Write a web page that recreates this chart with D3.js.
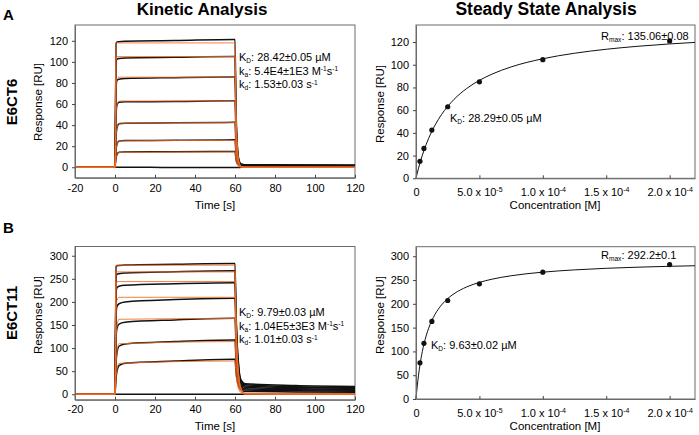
<!DOCTYPE html>
<html>
<head>
<meta charset="utf-8">
<script src="https://cdn.jsdelivr.net/npm/d3@7"></script>
<style>
  html, body { margin: 0; padding: 0; background: #fff; }
  svg { display: block; font-family: "Liberation Sans", Arial, sans-serif; }
</style>
</head>
<body>
<svg id="chart" width="699" height="435"></svg>
<script>
// ---------------- DATA ----------------
const panelLetters = ["A", "B"];
const constructNames = ["E6CT6", "E6CT11"];
const panelTitles = ["Kinetic Analysis", "Steady State Analysis"];

const kinTicks = [-20, 0, 20, 40, 60, 80, 100, 120];
const kinYTicksA = [0, 20, 40, 60, 80, 100, 120];
const kinYTicksB = [0, 50, 100, 150, 200, 250, 300];
const ssXTicks = [0, 5e-5, 1e-4, 1.5e-4, 2e-4];
const ssXTickMant = ["0", "5.0", "1.0", "1.5", "2.0"];
const ssXTickExp = ["", "-5", "-4", "-4", "-4"];

// sensorgram time grid (s)
const kinTimeData = [-20, -10, 0, 0.5, 1, 2, 5, 30, 59.5, 60, 60.5, 61, 62, 63, 65, 90, 120];
const kinTimeFit = [-20, 0, 0.5, 1, 2, 59.5, 60, 60.5, 61, 62, 63, 65, 120];

// measured responses, E6CT6 (RU)
const dataA0 = [0.4, 0.6, 0.5, 0.2, 0, 0, 0, -0.2, -0.2, -0.2, -0.2, -0.2, -0.2, -0.1, 0, 0.2, 0.3];
const dataA1 = [0.4, 0.6, 0.5, 8.5, 12.2, 14.2, 14.6, 14.8, 15, 15, 7.5, 4, 2, 1.5, 1.3, 1.2, 1.0];
const dataA2 = [0.4, 0.6, 0.5, 15.8, 22, 25, 25.3, 25.6, 26, 26, 12.8, 6.3, 2.4, 1.6, 1.4, 1.3, 1.2];
const dataA3 = [0.4, 0.6, 0.5, 28.5, 37.5, 41.3, 41.8, 42.2, 42.6, 42.6, 20.5, 10, 2.9, 2, 1.6, 1.5, 1.3];
const dataA4 = [0.4, 0.6, 0.5, 47.5, 59, 61.6, 62.1, 62.4, 63, 63, 30, 14.5, 3.7, 2.2, 1.8, 1.6, 1.4];
const dataA5 = [0.4, 0.6, 0.5, 74, 82.5, 83.5, 84.2, 85, 85.6, 85.6, 40.5, 19.3, 4.8, 2.5, 2, 1.8, 1.6];
const dataA6 = [0.4, 0.6, 0.5, 99.5, 102.5, 103.2, 103.8, 104.4, 105, 105, 49.5, 23.5, 5.8, 2.8, 2.2, 2, 1.8];
const dataA7 = [0.4, 0.6, 0.5, 117, 119, 119.2, 119.5, 120.2, 121.3, 121.3, 56, 27, 6.6, 3.1, 2.4, 2.2, 2];

// kinetic fit, E6CT6 (RU)
const fitA1 = [0, 0, 8.3, 11.9, 14.1, 14.5, 14.5, 6.7, 3.1, 0.7, 0.15, 0, 0];
const fitA2 = [0, 0, 15.5, 21.6, 25, 25.5, 25.5, 11.9, 5.5, 1.2, 0.3, 0, 0];
const fitA3 = [0, 0, 28.3, 37.6, 41.8, 42.3, 42.3, 19.7, 9.2, 2, 0.4, 0, 0];
const fitA4 = [0, 0, 48, 59.3, 62.8, 63, 63, 29.3, 13.7, 3, 0.6, 0, 0];
const fitA5 = [0, 0, 75, 84.2, 85.5, 85.5, 85.5, 39.8, 18.6, 4, 0.9, 0, 0];
const fitA6 = [0, 0, 101.8, 105, 105, 105, 105, 48.8, 22.8, 4.9, 1, 0, 0];
const fitA7 = [0, 0, 117.8, 118, 118, 118, 118, 54.9, 25.6, 5.5, 1.2, 0, 0];

// measured responses, E6CT11 (RU)
const dataB0 = [0, 0.5, 0, 0, 0, 0, 0, 0, 0, 0, 0, 0, 0, 0, 0, 0, 0];
const dataB1 = [0, 0.5, 0, 33, 50, 62, 67, 72, 76, 76, 49, 32, 16, 10, 6, 5, 4.5];
const dataB2 = [0, 0.5, 0, 65, 90, 104, 109, 114, 117.5, 117.5, 75, 48, 22, 13, 9, 7.5, 6.5];
const dataB3 = [0, 0.5, 0, 120, 143, 152, 156, 161, 164.5, 164.5, 106, 67, 30, 17, 12, 9.5, 8.5];
const dataB4 = [0, 0.5, 0, 172, 190, 196, 200, 205, 208, 208, 132, 85, 38, 21, 15, 12, 10.5];
const dataB5 = [0, 0.5, 0, 220, 231, 234, 236, 239.5, 241.6, 241.6, 155, 100, 45, 25, 18, 14.5, 13];
const dataB6 = [0, 0.5, 0, 255, 260, 261, 262.5, 265.5, 267.6, 267.6, 172, 112, 50, 28, 20.5, 16.5, 15];
const dataB7 = [0, 0.5, 0, 276, 278.5, 279, 280, 281.5, 283, 283, 182, 118, 54, 31, 23, 19, 17];

// kinetic fit, E6CT11 (RU)
const fitB1 = [0, 0, 35.3, 53.3, 67, 72, 72, 43.3, 26.2, 9.5, 3.5, 0.5, 0];
const fitB2 = [0, 0, 63.8, 92.3, 109.4, 114, 114, 68.6, 41.5, 15, 5.5, 0.7, 0];
const fitB3 = [0, 0, 113, 147.6, 162.4, 164, 164, 98.7, 59.7, 21.6, 7.9, 1, 0];
const fitB4 = [0, 0, 176.4, 203.7, 210, 210, 210, 126.4, 76.4, 27.7, 10.1, 1.3, 0];
const fitB5 = [0, 0, 233, 243.5, 244, 244, 244, 146.9, 88.8, 32.2, 11.7, 1.5, 0];
const fitB6 = [0, 0, 264.2, 265, 265, 265, 265, 159.5, 96.5, 35, 12.7, 1.6, 0];
const fitB7 = [0, 0, 279.5, 279.5, 279.5, 279.5, 279.5, 168.3, 101.7, 36.9, 13.4, 1.7, 0];

// steady state
const ssConc = [3.125e-6, 6.25e-6, 12.5e-6, 25e-6, 50e-6, 100e-6, 200e-6];
const ssRespA = [15, 26.3, 42.5, 63, 85, 104.5, 121];
const ssRespB = [76, 117, 163, 207, 242, 266.5, 282.5];

// steady state fit curves (conc in µM)
const ssFitConcA = [0, 1, 2, 3.125, 5, 6.25, 8, 10, 12.5, 15, 20, 25, 30, 40, 50, 60, 75, 100, 125, 150, 175, 200, 220];
const ssFitRespA = [0, 4.61, 8.92, 13.43, 20.29, 24.44, 29.78, 35.27, 41.39, 46.8, 55.94, 63.36, 69.51, 79.11, 86.26, 91.78, 98.07, 105.28, 110.13, 113.63, 116.27, 118.33, 119.67];
const ssFitConcB = [0, 0.5, 1, 2, 3.125, 5, 6.25, 8, 10, 12.5, 15, 20, 25, 30, 40, 50, 60, 75, 100, 125, 150, 175, 200, 220];
const ssFitRespB = [0, 14.42, 27.49, 50.25, 71.59, 99.86, 115.0, 132.6, 148.85, 165.05, 177.95, 197.23, 210.95, 221.2, 235.5, 245.0, 251.8, 258.95, 266.5, 271.3, 274.6, 276.96, 278.8, 279.95];

// annotation texts
const kinAnnA = [
  [["K"], ["D", "sub"], [": 28.42±0.05 µM"]],
  [["k"], ["a", "sub"], [": 5.4E4±1E3 M"], ["-1", "sup"], ["s"], ["-1", "sup"]],
  [["k"], ["d", "sub"], [": 1.53±0.03 s"], ["-1", "sup"]]
];
const kinAnnB = [
  [["K"], ["D", "sub"], [": 9.79±0.03 µM"]],
  [["k"], ["a", "sub"], [": 1.04E5±3E3 M"], ["-1", "sup"], ["s"], ["-1", "sup"]],
  [["k"], ["d", "sub"], [": 1.01±0.03 s"], ["-1", "sup"]]
];
const ssRmaxA = [["R"], ["max", "sub"], [": 135.06±0.08"]];
const ssKdA = [["K"], ["D", "sub"], [": 28.29±0.05 µM"]];
const ssRmaxB = [["R"], ["max", "sub"], [": 292.2±0.1"]];
const ssKdB = [["K"], ["D", "sub"], [": 9.63±0.02 µM"]];

// ---------------- DRAW ----------------
const svg = d3.select("#chart");
const BLACK = "#111";
const ORANGE = "#f26a22";
const FRAME = "#6a6a6a";

function richText(g, x, y, parts, size) {
  const t = g.append("text").attr("x", x).attr("y", y).attr("font-size", size).attr("fill", "#000");
  let shift = 0;
  parts.forEach(p => {
    const kind = p[1];
    let target = 0, fs = size;
    if (kind === "sub") { target = 2; fs = size * 0.6; }
    if (kind === "sup") { target = -3.5; fs = size * 0.6; }
    t.append("tspan").attr("dy", target - shift).attr("font-size", fs).text(p[0]);
    shift = target;
  });
  return t;
}

function styleAxis(ax) {
  ax.selectAll(".domain").attr("stroke", FRAME);
  ax.selectAll(".tick line").attr("stroke", "#444");
  ax.selectAll(".tick text").attr("font-size", 11).attr("fill", "#000")
    .attr("font-family", '"Liberation Sans", Arial, sans-serif');
}

const plainFmt = d => String(d);

function kineticPanel(cfg) {
  const g = svg.append("g");
  const x = d3.scaleLinear().domain([-20, 120]).range([75, 355]);
  const y = d3.scaleLinear().domain(cfg.yDomain).range(cfg.yRange);
  g.append("rect").attr("x", 75).attr("y", cfg.yRange[1]).attr("width", 280)
    .attr("height", cfg.yRange[0] - cfg.yRange[1]).attr("fill", "none").attr("stroke", FRAME).attr("stroke-width", 1);

  const clipId = "clip" + cfg.id;
  g.append("clipPath").attr("id", clipId).append("rect")
    .attr("x", 75).attr("y", cfg.yRange[1]).attr("width", 280).attr("height", cfg.yRange[0] - cfg.yRange[1]);
  const plot = g.append("g").attr("clip-path", `url(#${clipId})`);

  const line = d3.line().x(d => x(d[0])).y(d => y(d[1])).curve(d3.curveMonotoneX);
  cfg.data.forEach(arr => {
    plot.append("path").datum(kinTimeData.map((t, i) => [t, arr[i]]))
      .attr("d", line).attr("fill", "none").attr("stroke", BLACK).attr("stroke-width", 1.5);
  });
  cfg.fits.forEach(arr => {
    plot.append("path").datum(kinTimeFit.map((t, i) => [t, arr[i]]))
      .attr("d", line).attr("fill", "none").attr("stroke", ORANGE).attr("stroke-width", 1).attr("opacity", 0.85);
  });

  const xa = g.append("g").attr("transform", `translate(0,${cfg.yRange[0]})`)
    .call(d3.axisBottom(x).tickValues(kinTicks).tickFormat(plainFmt).tickSize(-3).tickSizeOuter(0).tickPadding(cfg.xPad));
  styleAxis(xa);
  const ya = g.append("g").attr("transform", "translate(75,0)")
    .call(d3.axisLeft(y).tickValues(cfg.yTicks).tickFormat(plainFmt).tickSize(3).tickSizeOuter(0).tickPadding(4));
  styleAxis(ya);

  g.append("text").attr("x", 215).attr("y", cfg.xTitleY).attr("text-anchor", "middle")
    .attr("font-size", 11.5).text("Time [s]");
  g.append("text").attr("transform", `translate(42,${cfg.yTitleY}) rotate(-90)`).attr("text-anchor", "middle")
    .attr("font-size", 11.5).text("Response [RU]");

  cfg.ann.forEach((parts, i) => richText(g, 239, cfg.annY + i * cfg.annDy, parts, 11));
}

function steadyPanel(cfg) {
  const g = svg.append("g");
  const x = d3.scaleLinear().domain([0, 2.2e-4]).range([416, 695]);
  const y = d3.scaleLinear().domain(cfg.yDomain).range(cfg.yRange);
  g.append("rect").attr("x", 416).attr("y", cfg.yRange[1]).attr("width", 279)
    .attr("height", cfg.yRange[0] - cfg.yRange[1]).attr("fill", "none").attr("stroke", FRAME).attr("stroke-width", 1);

  const line = d3.line().x(d => x(d[0] * 1e-6)).y(d => y(d[1])).curve(d3.curveMonotoneX);
  g.append("path").datum(cfg.fitConc.map((c, i) => [c, cfg.fitResp[i]]))
    .attr("d", line).attr("fill", "none").attr("stroke", BLACK).attr("stroke-width", 1);

  g.selectAll("circle.pt").data(ssConc.map((c, i) => [c, cfg.resp[i]])).enter()
    .append("circle").attr("cx", d => x(d[0])).attr("cy", d => y(d[1])).attr("r", 2.6).attr("fill", BLACK);

  const xa = g.append("g").attr("transform", `translate(0,${cfg.yRange[0]})`)
    .call(d3.axisBottom(x).tickValues(ssXTicks).tickSize(-3).tickSizeOuter(0).tickPadding(cfg.xPad));
  styleAxis(xa);
  xa.selectAll(".tick text").each(function (d, i) {
    const t = d3.select(this).text(null);
    t.append("tspan").text(ssXTickMant[i] + (ssXTickExp[i] ? " x 10" : ""));
    if (ssXTickExp[i]) {
      t.append("tspan").attr("dy", -4).attr("font-size", 7).text(ssXTickExp[i]);
    }
  });
  const ya = g.append("g").attr("transform", "translate(416,0)")
    .call(d3.axisLeft(y).tickValues(cfg.yTicks).tickFormat(plainFmt).tickSize(3).tickSizeOuter(0).tickPadding(4));
  styleAxis(ya);

  g.append("text").attr("x", 555).attr("y", cfg.xTitleY).attr("text-anchor", "middle")
    .attr("font-size", 11.5).text("Concentration [M]");
  g.append("text").attr("transform", `translate(384,${cfg.yTitleY}) rotate(-90)`).attr("text-anchor", "middle")
    .attr("font-size", 11.5).text("Response [RU]");

  richText(g, 601, cfg.rmaxY, cfg.rmax, 11);
  richText(g, cfg.kdX, cfg.kdY, cfg.kd, 11);
}

// titles
svg.append("text").attr("x", 202).attr("y", 15).attr("text-anchor", "middle")
  .attr("font-size", 17).attr("font-weight", "bold").text(panelTitles[0]);
svg.append("text").attr("x", 546).attr("y", 15).attr("text-anchor", "middle")
  .attr("font-size", 17.5).attr("font-weight", "bold").text(panelTitles[1]);
svg.append("text").attr("x", 3).attr("y", 20).attr("font-size", 15).attr("font-weight", "bold").text(panelLetters[0]);
svg.append("text").attr("x", 3).attr("y", 233).attr("font-size", 15).attr("font-weight", "bold").text(panelLetters[1]);
svg.append("text").attr("transform", "translate(17,102) rotate(-90)").attr("text-anchor", "middle")
  .attr("font-size", 15).attr("font-weight", "bold").text(constructNames[0]);
svg.append("text").attr("transform", "translate(17,313) rotate(-90)").attr("text-anchor", "middle")
  .attr("font-size", 15).attr("font-weight", "bold").text(constructNames[1]);

kineticPanel({
  id: "A", yDomain: [-10, 135], yRange: [177.8, 25], yTicks: kinYTicksA, xPad: 6,
  data: [dataA0, dataA1, dataA2, dataA3, dataA4, dataA5, dataA6, dataA7],
  fits: [fitA1, fitA2, fitA3, fitA4, fitA5, fitA6, fitA7],
  xTitleY: 209, yTitleY: 102, ann: kinAnnA, annY: 61, annDy: 13.6
});
kineticPanel({
  id: "B", yDomain: [-12, 320], yRange: [399.8, 246.5], yTicks: kinYTicksB, xPad: 5,
  data: [dataB0, dataB1, dataB2, dataB3, dataB4, dataB5, dataB6, dataB7],
  fits: [fitB1, fitB2, fitB3, fitB4, fitB5, fitB6, fitB7],
  xTitleY: 430, yTitleY: 315, ann: kinAnnB, annY: 316, annDy: 13.6
});
steadyPanel({
  yDomain: [0, 135], yRange: [178.3, 25], yTicks: kinYTicksA, xPad: 10,
  resp: ssRespA, fitConc: ssFitConcA, fitResp: ssFitRespA,
  xTitleY: 209, yTitleY: 104, rmax: ssRmaxA, rmaxY: 40, kd: ssKdA, kdX: 450, kdY: 122
});
steadyPanel({
  yDomain: [0, 320], yRange: [399, 246.7], yTicks: kinYTicksB, xPad: 10,
  resp: ssRespB, fitConc: ssFitConcB, fitResp: ssFitRespB,
  xTitleY: 430, yTitleY: 315, rmax: ssRmaxB, rmaxY: 259, kd: ssKdB, kdX: 431, kdY: 349
});
</script>
</body>
</html>
